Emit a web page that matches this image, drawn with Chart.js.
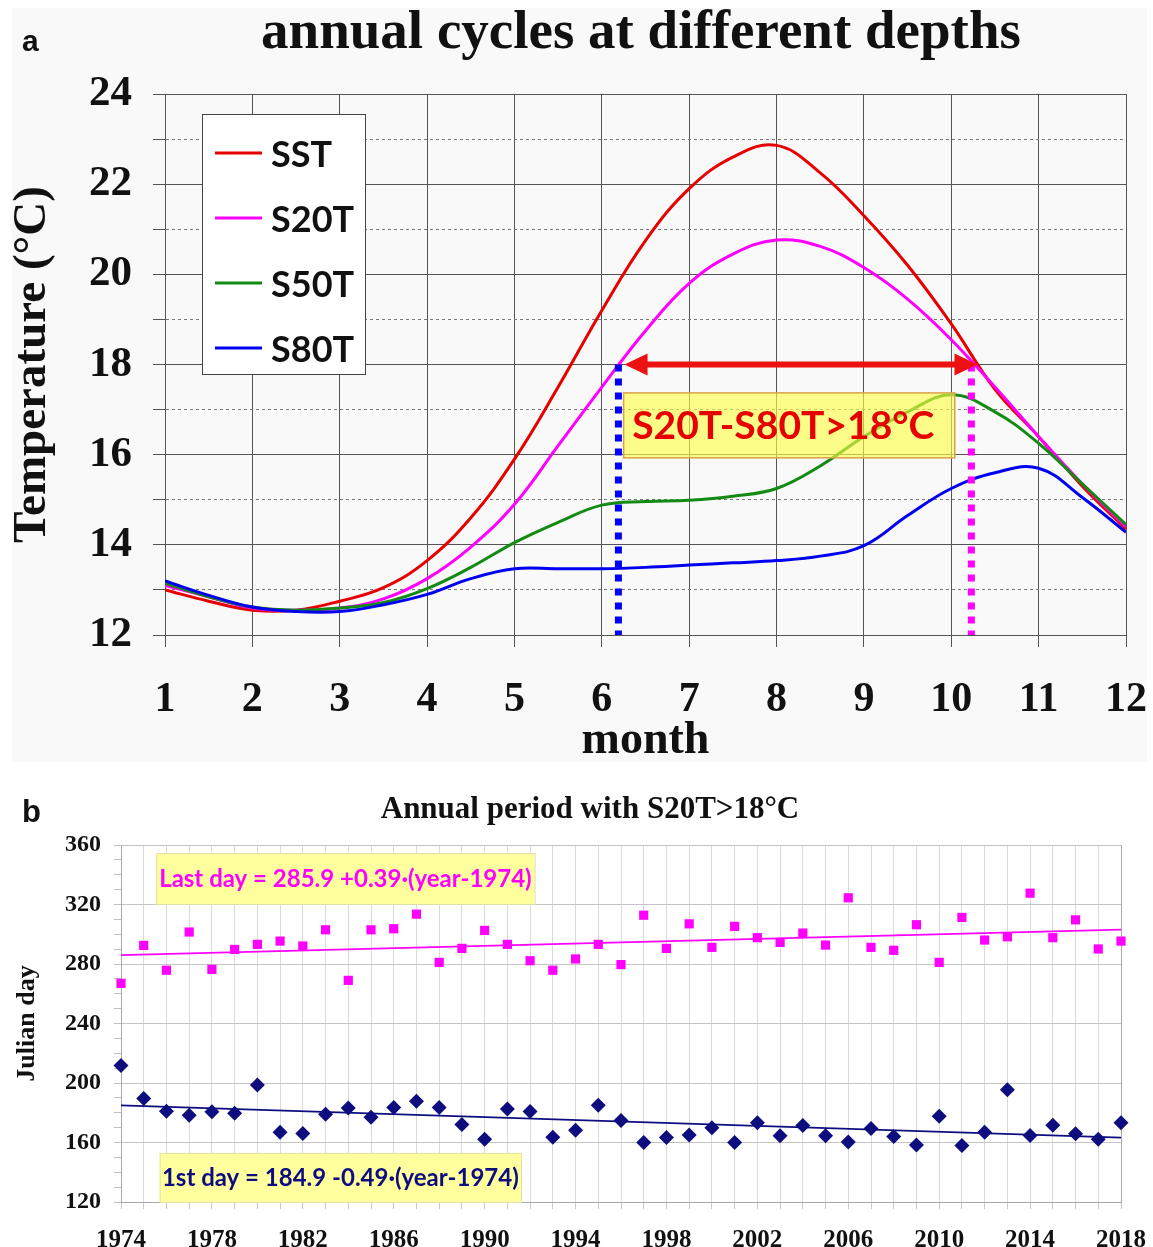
<!DOCTYPE html>
<html>
<head>
<meta charset="utf-8">
<script src="https://cdn.jsdelivr.net/npm/chart.js@4.4.1/dist/chart.umd.min.js"></script>
<style>
  body { margin: 0; background: #fff; }
  #wrap { position: relative; width: 1153px; height: 1247px; }
  canvas { position: absolute; left: 0; }
  #chartA { top: 0; }
  #chartB { top: 770px; }
</style>
</head>
<body>
<div id="wrap">
  <canvas id="chartA" width="1153" height="771"></canvas>
  <canvas id="chartB" width="1153" height="477"></canvas>
</div>
<script>
// ---- panel a: annual cycles (every half month)
const months = [1, 1.5, 2, 2.5, 3, 3.5, 4, 4.5, 5, 5.5, 6, 6.5, 7, 7.5, 8, 8.5, 9, 9.5, 10, 10.5, 11, 11.5, 12];
const sst  = [13.0, 12.75, 12.55, 12.55, 12.75, 13.05, 13.65, 14.6, 15.9, 17.5, 19.2, 20.75, 21.9, 22.6, 22.86, 22.25, 21.3, 20.2, 18.9, 17.45, 16.4, 15.3, 14.35];
const s20t = [13.1, 12.85, 12.6, 12.55, 12.6, 12.8, 13.25, 13.95, 14.9, 16.2, 17.5, 18.75, 19.8, 20.45, 20.76, 20.62, 20.15, 19.45, 18.55, 17.5, 16.4, 15.35, 14.4];
const s50t = [13.15, 12.85, 12.62, 12.55, 12.6, 12.72, 13.03, 13.5, 14.05, 14.5, 14.88, 14.96, 14.99, 15.08, 15.25, 15.75, 16.4, 16.95, 17.33, 16.95, 16.25, 15.35, 14.45];
const s80t = [13.2, 12.88, 12.62, 12.52, 12.52, 12.67, 12.9, 13.25, 13.47, 13.47, 13.47, 13.5, 13.55, 13.6, 13.65, 13.75, 13.98, 14.65, 15.25, 15.6, 15.7, 15.05, 14.28];
const seriesNames = ['SST', 'S20T', 'S50T', 'S80T'];

// period with S20T above 18 degC (month values)
const periodStart = 6.19;
const periodEnd = 10.23;
const thresholdTemp = 18;

// ---- panel b: first / last day per year
const years = [1974, 1975, 1976, 1977, 1978, 1979, 1980, 1981, 1982, 1983, 1984, 1985, 1986, 1987, 1988,
               1989, 1990, 1991, 1992, 1993, 1994, 1995, 1996, 1997, 1998, 1999, 2000, 2001, 2002, 2003,
               2004, 2005, 2006, 2007, 2008, 2009, 2010, 2011, 2012, 2013, 2014, 2015, 2016, 2017, 2018];
const lastDay = [267, 292.5, 275.8, 301.5, 276.4, 289.8, 293.2, 295.4, 292.1, 303, 269, 303, 303.7, 313.5, 281.1,
                 290.5, 302.6, 293.2, 282.2, 275.8, 283.4, 293.2, 279.6, 312.8, 290.5, 307, 291.2, 305.3, 297.7, 294.5,
                 300.8, 292.7, 324.5, 291.2, 289.2, 306.4, 281.1, 311.3, 296.1, 298.3, 327.6, 297.7, 309.7, 290.1, 295.4];
const firstDay = [211.8, 189.5, 181, 178.3, 180.6, 179.7, 198.7, 166.9, 166, 179, 183.2, 177, 183.5, 187.7, 183.5,
                  172.1, 162.2, 182.6, 180.8, 163.6, 168.3, 185, 174.8, 160, 163.4, 165.1, 170, 160, 173.2, 164.5,
                  171.4, 164.5, 160.4, 169.4, 164, 158.4, 177.7, 158, 166.9, 195.5, 164.7, 171.6, 165.8, 162.2, 173.2];
// fitted lines, values at 1974 and 2018
const lastTrend = [285.9, 303.1];
const firstTrend = [184.9, 163.3];
const lastLabel = 'Last day = 285.9 +0.39\u00b7(year-1974)';
const firstLabel = '1st day = 184.9 -0.49\u00b7(year-1974)';

const SERIF = '"Liberation Serif", "DejaVu Serif", serif';
const SANS = 'Lato, "Open Sans", sans-serif';

function pts(xs, ys) {
  return xs.map((v, i) => ({ x: v, y: ys[i] }));
}

// ---------------- panel a
const colorsA = ['#e60000', '#ff00ff', '#138a13', '#0000f0'];

const panelAExtras = {
  id: 'panelAExtras',
  beforeDraw(chart) {
    const ctx = chart.ctx;
    ctx.save();
    ctx.fillStyle = '#f8f9f8';
    ctx.fillRect(12, 8, 1135, 754);
    ctx.restore();
  },
  afterDatasetsDraw(chart) {
    const { ctx, scales: { x, y } } = chart;
    ctx.save();

    // dotted verticals marking the period
    ctx.lineWidth = 7;
    ctx.setLineDash([7, 7]);
    ctx.strokeStyle = '#0000ff';
    ctx.beginPath();
    ctx.moveTo(x.getPixelForValue(periodStart), y.getPixelForValue(thresholdTemp));
    ctx.lineTo(x.getPixelForValue(periodStart), y.bottom);
    ctx.stroke();
    ctx.strokeStyle = '#ff00ff';
    ctx.beginPath();
    ctx.moveTo(x.getPixelForValue(periodEnd), y.getPixelForValue(thresholdTemp));
    ctx.lineTo(x.getPixelForValue(periodEnd), y.bottom);
    ctx.stroke();
    ctx.setLineDash([]);

    // double arrow
    const ay = y.getPixelForValue(thresholdTemp);
    const ax0 = x.getPixelForValue(periodStart + 0.07);
    const ax1 = x.getPixelForValue(periodEnd + 0.07);
    ctx.strokeStyle = '#ee1111';
    ctx.fillStyle = '#ee1111';
    ctx.lineWidth = 6;
    ctx.beginPath();
    ctx.moveTo(ax0 + 18, ay);
    ctx.lineTo(ax1 - 18, ay);
    ctx.stroke();
    ctx.beginPath();
    ctx.moveTo(ax0, ay); ctx.lineTo(ax0 + 23, ay - 11); ctx.lineTo(ax0 + 23, ay + 11); ctx.closePath();
    ctx.fill();
    ctx.beginPath();
    ctx.moveTo(ax1, ay); ctx.lineTo(ax1 - 23, ay - 11); ctx.lineTo(ax1 - 23, ay + 11); ctx.closePath();
    ctx.fill();

    // label box
    const bx0 = x.getPixelForValue(6.25), bx1 = x.getPixelForValue(10.04);
    const by0 = y.getPixelForValue(17.37), by1 = y.getPixelForValue(15.93);
    ctx.fillStyle = 'rgba(255, 255, 70, 0.62)';
    ctx.fillRect(bx0, by0, bx1 - bx0, by1 - by0);
    ctx.strokeStyle = '#d9a24a';
    ctx.lineWidth = 1.5;
    ctx.strokeRect(bx0, by0, bx1 - bx0, by1 - by0);
    ctx.fillStyle = '#e60000';
    ctx.font = 'bold 39px ' + SANS;
    ctx.textAlign = 'center';
    ctx.textBaseline = 'middle';
    ctx.fillText('S20T-S80T>18\u00b0C', (bx0 + bx1) / 2 - 6, (by0 + by1) / 2 + 1);

    // legend
    const lx = x.left + 37, ly = y.top + 20;
    ctx.fillStyle = '#ffffff';
    ctx.fillRect(lx, ly, 163, 260);
    ctx.strokeStyle = '#444';
    ctx.lineWidth = 1;
    ctx.strokeRect(lx + 0.5, ly + 0.5, 163, 260);
    ctx.textAlign = 'left';
    ctx.font = 'bold 36px ' + SANS;
    chart.data.datasets.forEach((ds, i) => {
      const cy = ly + 39 + i * 65;
      ctx.strokeStyle = ds.borderColor;
      ctx.lineWidth = 3;
      ctx.beginPath();
      ctx.moveTo(lx + 13, cy);
      ctx.lineTo(lx + 60, cy);
      ctx.stroke();
      ctx.fillStyle = '#111';
      ctx.fillText(ds.label, lx + 69, cy + 2);
    });
    ctx.restore();
  },
  afterDraw(chart) {
    const ctx = chart.ctx;
    ctx.save();
    ctx.fillStyle = '#111';
    ctx.textBaseline = 'alphabetic';
    ctx.font = 'bold 30px "Liberation Sans", Arial, sans-serif';
    ctx.textAlign = 'left';
    ctx.fillText('a', 22, 51);
    ctx.font = 'bold 55px ' + SERIF;
    ctx.textAlign = 'center';
    ctx.fillText('annual cycles at different depths', 641, 48);
    ctx.restore();
  }
};

new Chart(document.getElementById('chartA'), {
  type: 'line',
  data: {
    datasets: [sst, s20t, s50t, s80t].map((vals, i) => ({
      label: seriesNames[i],
      data: pts(months, vals),
      borderColor: colorsA[i],
      borderWidth: 3,
      pointRadius: 0,
      tension: 0.4,
      order: 4 - i
    }))
  },
  options: {
    responsive: false,
    animation: false,
    layout: { padding: { left: 0, right: 27, top: 94, bottom: 0 } },
    plugins: { legend: { display: false }, tooltip: { enabled: false } },
    scales: {
      x: {
        type: 'linear',
        min: 1,
        max: 12,
        afterFit(scale) {
          scale.height = 136;
          scale.paddingLeft = 0;
          scale.paddingRight = 0;
        },
        ticks: {
          stepSize: 1,
          autoSkip: false,
          maxRotation: 0,
          padding: 28,
          color: '#111',
          font: { family: SERIF, size: 42, weight: 'bold' },
          callback: (v) => String(v)
        },
        grid: { color: '#555', tickLength: 12, tickColor: '#555' },
        border: { color: '#555' },
        title: {
          display: true,
          text: 'month',
          color: '#111',
          font: { family: SERIF, size: 46, weight: 'bold' },
          padding: { top: 0, bottom: 2 }
        }
      },
      y: {
        min: 12,
        max: 24,
        afterFit(scale) { scale.width = 165; },
        ticks: {
          stepSize: 1,
          autoSkip: false,
          padding: 21,
          color: '#111',
          font: { family: SERIF, size: 43, weight: 'bold' },
          callback: (v) => (v % 2 === 0 ? String(v) : '')
        },
        grid: {
          color: (c) => (c.tick && c.tick.value % 2 === 1 ? '#777' : '#555'),
          tickLength: 12,
          tickColor: '#555'
        },
        border: {
          color: '#555',
          dash: (c) => (c.tick && c.tick.value % 2 === 1 ? [3, 3] : [])
        },
        title: {
          display: true,
          text: 'Temperature (\u00b0C)',
          color: '#111',
          font: { family: SERIF, size: 47, weight: 'bold' },
          padding: { top: 5, bottom: 0 }
        }
      }
    }
  },
  plugins: [panelAExtras]
});

// ---------------- panel b
const pink = '#ff00ff';
const navy = '#0d0d80';

const panelBExtras = {
  id: 'panelBExtras',
  afterDatasetsDraw(chart) {
    const { ctx, scales: { x, y } } = chart;
    ctx.save();
    const boxes = [
      { text: lastLabel, color: pink, x0: 1975.55, x1: 1992.2, y0: 354.6, y1: 320.3 },
      { text: firstLabel, color: navy, x0: 1975.7, x1: 1991.6, y0: 153, y1: 120 }
    ];
    boxes.forEach((b) => {
      const px0 = x.getPixelForValue(b.x0), px1 = x.getPixelForValue(b.x1);
      const py0 = y.getPixelForValue(b.y0), py1 = y.getPixelForValue(b.y1);
      ctx.fillStyle = '#ffff9e';
      ctx.fillRect(px0, py0, px1 - px0, py1 - py0);
      ctx.strokeStyle = '#e0e0a8';
      ctx.lineWidth = 1;
      ctx.strokeRect(px0 + 0.5, py0 + 0.5, px1 - px0, py1 - py0);
      ctx.fillStyle = b.color;
      ctx.font = 'bold 24px ' + SANS;
      ctx.textAlign = 'center';
      ctx.textBaseline = 'middle';
      ctx.fillText(b.text, (px0 + px1) / 2, (py0 + py1) / 2 + 1);
    });
    ctx.restore();
  },
  afterDraw(chart) {
    const ctx = chart.ctx;
    ctx.save();
    ctx.fillStyle = '#111';
    ctx.textBaseline = 'alphabetic';
    ctx.font = 'bold 31px "Liberation Sans", Arial, sans-serif';
    ctx.textAlign = 'left';
    ctx.fillText('b', 22, 52);
    ctx.font = 'bold 31px ' + SERIF;
    ctx.textAlign = 'center';
    ctx.fillText('Annual period with S20T>18\u00b0C', 590, 48);
    ctx.restore();
  }
};

new Chart(document.getElementById('chartB'), {
  type: 'scatter',
  data: {
    datasets: [
      {
        label: 'Last day',
        data: pts(years, lastDay),
        pointStyle: 'rect',
        pointRadius: 6.5,
        backgroundColor: pink,
        borderColor: pink,
        borderWidth: 0,
        clip: false,
        order: 1
      },
      {
        label: '1st day',
        data: pts(years, firstDay),
        pointStyle: 'rectRot',
        pointRadius: 7.5,
        backgroundColor: navy,
        borderColor: navy,
        borderWidth: 0,
        clip: false,
        order: 1
      },
      {
        label: 'Last day trend',
        data: pts([years[0], years[years.length - 1]], lastTrend),
        showLine: true,
        borderColor: pink,
        borderWidth: 1.8,
        pointRadius: 0,
        order: 2
      },
      {
        label: '1st day trend',
        data: pts([years[0], years[years.length - 1]], firstTrend),
        showLine: true,
        borderColor: navy,
        borderWidth: 1.8,
        pointRadius: 0,
        order: 2
      }
    ]
  },
  options: {
    responsive: false,
    animation: false,
    layout: { padding: { left: 0, right: 32, top: 75, bottom: 0 } },
    plugins: { legend: { display: false }, tooltip: { enabled: false } },
    scales: {
      x: {
        type: 'linear',
        min: 1974,
        max: 2018,
        afterFit(scale) {
          scale.height = 45;
          scale.paddingLeft = 0;
          scale.paddingRight = 0;
        },
        ticks: {
          stepSize: 1,
          autoSkip: false,
          maxRotation: 0,
          padding: 17,
          color: '#111',
          font: { family: SERIF, size: 25, weight: 'bold' },
          callback: (v) => ((v - 1974) % 4 === 0 ? String(v) : '')
        },
        grid: {
          color: (c) => (c.tick && c.tick.value === 2018 ? '#a8a8a8' : '#dadada'),
          tickLength: 7,
          tickColor: '#c8c8c8'
        },
        border: { color: '#a8a8a8' }
      },
      y: {
        min: 120,
        max: 360,
        afterFit(scale) { scale.width = 121; },
        ticks: {
          stepSize: 10,
          autoSkip: false,
          padding: 13,
          color: '#111',
          font: { family: SERIF, size: 24, weight: 'bold' },
          callback: (v) => (v % 40 === 0 ? String(v) : '')
        },
        grid: {
          color: (c) => (c.tick && c.tick.value % 40 === 0 ? '#c4c4c4' : 'rgba(0,0,0,0)'),
          tickLength: 7,
          tickColor: '#c0c0c0'
        },
        border: { color: '#a8a8a8' },
        title: {
          display: true,
          text: 'Julian day',
          color: '#111',
          font: { family: SERIF, size: 26, weight: 'bold' },
          padding: { top: 12, bottom: 0 }
        }
      }
    }
  },
  plugins: [panelBExtras]
});
</script>
</body>
</html>
